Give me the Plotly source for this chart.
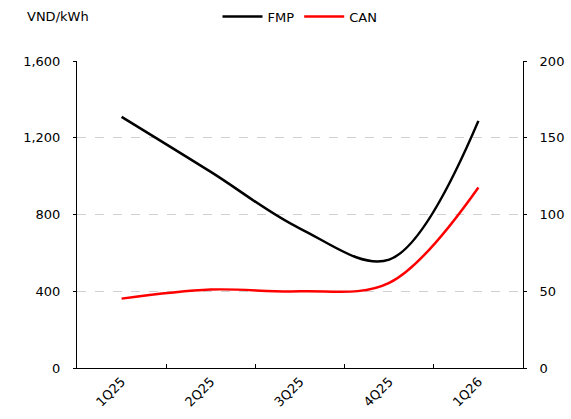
import plotly.graph_objects as go

categories = ["1Q25", "2Q25", "3Q25", "4Q25", "1Q26"]
fmp = [1309, 1022, 727, 565, 1288]
can = [45.2, 51.1, 50.0, 55.4, 117.6]
left_ticks = [0, 400, 800, 1200, 1600]
right_ticks = [0, 50, 100, 150, 200]

FONT = "Tahoma, DejaVu Sans, sans-serif"

fig = go.Figure()
fig.add_trace(go.Scatter(x=categories, y=fmp, name="FMP", mode="lines",
                         line=dict(color="black", width=2.5, shape="spline", smoothing=1.0),
                         yaxis="y"))
fig.add_trace(go.Scatter(x=categories, y=can, name="CAN", mode="lines",
                         line=dict(color="#ff0000", width=2.5, shape="spline", smoothing=1.0),
                         yaxis="y2"))

fig.update_layout(
    width=571, height=419,
    margin=dict(l=77, r=48, t=61, b=51, autoexpand=False),
    paper_bgcolor="white", plot_bgcolor="white",
    font=dict(family=FONT, size=13, color="black"),
    showlegend=True,
    legend=dict(orientation="h", x=0.5, xanchor="center", y=1.145, yanchor="middle",
                font=dict(size=13), bgcolor="rgba(0,0,0,0)", itemwidth=40, tracegroupgap=0),
    xaxis=dict(type="category", range=[-0.5, 4.5], tickangle=-45, showline=True,
               linecolor="black", linewidth=1,
               ticks="inside", ticklen=4, tickcolor="black", tickson="boundaries",
               showgrid=False, zeroline=False, tickfont=dict(size=13)),
    yaxis=dict(range=[0, 1600], tickvals=left_ticks, tickformat=",d", showline=True,
               linecolor="black", linewidth=1, ticks="outside", ticklen=3, tickcolor="black",
               showgrid=True, gridcolor="#d0d0d0", griddash="dash", gridwidth=1,
               zeroline=False, tickfont=dict(size=13), ticklabelstandoff=10),
    yaxis2=dict(range=[0, 200], tickvals=right_ticks, overlaying="y", side="right",
                showline=True, linecolor="black", linewidth=1, ticks="outside", ticklen=3,
                tickcolor="black", showgrid=False, zeroline=False, tickfont=dict(size=13),
                ticklabelstandoff=10),
    annotations=[dict(text="VND/kWh", xref="paper", yref="paper", x=-0.116, y=1.145,
                      xanchor="left", yanchor="middle", showarrow=False,
                      font=dict(size=13))],
)

post = ("document.body.style.margin='0';document.body.style.overflow='hidden';"
        "var gd=document.getElementById('{plot_id}');"
        "Plotly.relayout(gd,{width:571,height:419});")
fig.write_html("out.html", config={"responsive": False, "displayModeBar": False},
               post_script=post)
